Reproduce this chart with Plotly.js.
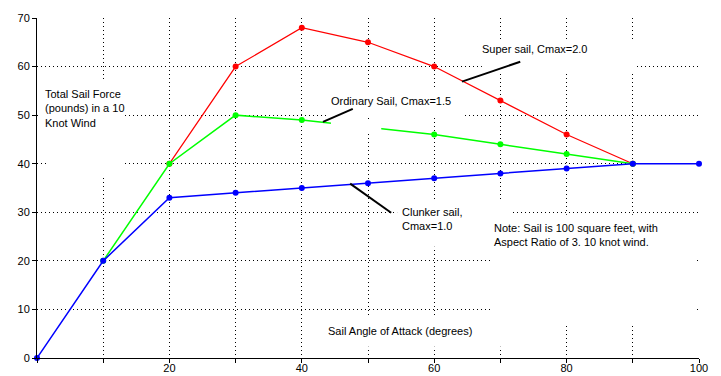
<!DOCTYPE html>
<html><head><meta charset="utf-8">
<script src="https://cdn.plot.ly/plotly-3.0.1.min.js"></script>
<style>html,body{margin:0;padding:0;background:#fff}#chart{width:721px;height:376px}</style>
</head><body><div id="chart"></div>
<script>
// Data
const clunkerX = [0, 10, 20, 30, 40, 50, 60, 70, 80, 90, 100];
const clunkerY = [0, 20, 33, 34, 35, 36, 37, 38, 39, 40, 40];
const ordinaryX = [10, 20, 30, 40, 50, 60, 70, 80, 90];
const ordinaryY = [20, 40, 50, 49, 47.5, 46, 44, 42, 40];
const superX = [20, 30, 40, 50, 60, 70, 80, 90];
const superY = [40, 60, 68, 65, 60, 53, 46, 40];
const xTickVals = [0, 10, 20, 30, 40, 50, 60, 70, 80, 90, 100];
const xTickText = ['', '', '20', '', '40', '', '60', '', '80', '', '100'];
const yTickVals = [0, 10, 20, 30, 40, 50, 60, 70];

const FONT = 'Arial, "Liberation Sans", sans-serif';

function series(x, y, color, w) {
  return {x: x, y: y, type: 'scatter', mode: 'lines+markers',
    line: {color: color, width: w}, marker: {color: color, size: 6},
    hoverinfo: 'skip', showlegend: false, cliponaxis: false};
}
const traces = [
  series(superX, superY, '#ff0000', 1.2),
  series(ordinaryX, ordinaryY, '#00ff00', 1.5),
  series(clunkerX, clunkerY, '#0000ff', 1.5)
];

function cover(x0, x1, y0, y1, layer) {
  return {type: 'rect', xref: 'x', yref: 'y', x0: x0, x1: x1, y0: y0, y1: y1,
    fillcolor: '#ffffff', line: {width: 0}, layer: layer || 'between'};
}
function arrow(x0, y0, x1, y1) {
  return {type: 'line', xref: 'x', yref: 'y', x0: x0, y0: y0, x1: x1, y1: y1,
    line: {color: '#000000', width: 2}, layer: 'above'};
}
function label(x, y, text) {
  return {xref: 'x', yref: 'y', x: x, y: y, text: text, showarrow: false,
    xanchor: 'left', yanchor: 'top', align: 'left', borderpad: 0,
    font: {family: FONT, size: 11, color: '#000000'}};
}

const layout = {
  width: 721, height: 376,
  margin: {l: 37, r: 22, t: 18, b: 18, pad: 0},
  paper_bgcolor: '#ffffff', plot_bgcolor: '#ffffff',
  font: {family: FONT, size: 11, color: '#000000'},
  showlegend: false,
  xaxis: {range: [0, 100], tickmode: 'array', tickvals: xTickVals, ticktext: xTickText,
    showgrid: true, gridcolor: '#000000', griddash: '1px,3px', gridwidth: 1,
    zeroline: false, showline: true, linecolor: '#000000', linewidth: 1,
    ticks: 'outside', ticklen: 4, tickcolor: '#000000', ticklabelstandoff: -4,
    tickfont: {family: FONT, size: 11}, fixedrange: true},
  yaxis: {range: [0, 70], tickmode: 'array', tickvals: yTickVals,
    showgrid: true, gridcolor: '#000000', griddash: '1px,3px', gridwidth: 1,
    zeroline: false, showline: true, linecolor: '#000000', linewidth: 1,
    ticks: 'outside', ticklen: 4, tickcolor: '#000000',
    tickfont: {family: FONT, size: 11}, fixedrange: true},
  shapes: [
    cover(0.5, 13.0, 41.5, 57.3),
    cover(1.7, 13.0, 37.1, 41.5),
    cover(43.8, 64.4, 49.5, 55.6),
    cover(67.2, 90.2, 58.5, 65.5),
    cover(54.4, 71.8, 22.9, 32.6),
    cover(68.7, 99.7, 6.9, 29.5),
    cover(42.7, 70.7, 2.3, 8.5),
    cover(44.4, 52.0, 46.6, 49.05, 'above'),
    arrow(43.2, 48.6, 47.7, 51.3),
    arrow(64.2, 56.9, 73.0, 61.0),
    arrow(47.3, 35.9, 53.5, 29.9)
  ],
  annotations: [
    label(1.06, 55.86, 'Total Sail Force<br>(pounds) in a 10<br>Knot Wind'),
    label(44.3, 54.4, 'Ordinary Sail, Cmax=1.5'),
    label(67.1, 65.1, 'Super sail, Cmax=2.0'),
    label(55.0, 31.4, 'Clunker sail,<br>Cmax=1.0'),
    label(68.9, 28.3, 'Note: Sail is 100 square feet, with<br>Aspect Ratio of 3. 10 knot wind.'),
    label(43.8, 7.06, 'Sail Angle of Attack (degrees)')
  ]
};

Plotly.newPlot('chart', traces, layout, {staticPlot: true, displayModeBar: false});
</script>
</body></html>
